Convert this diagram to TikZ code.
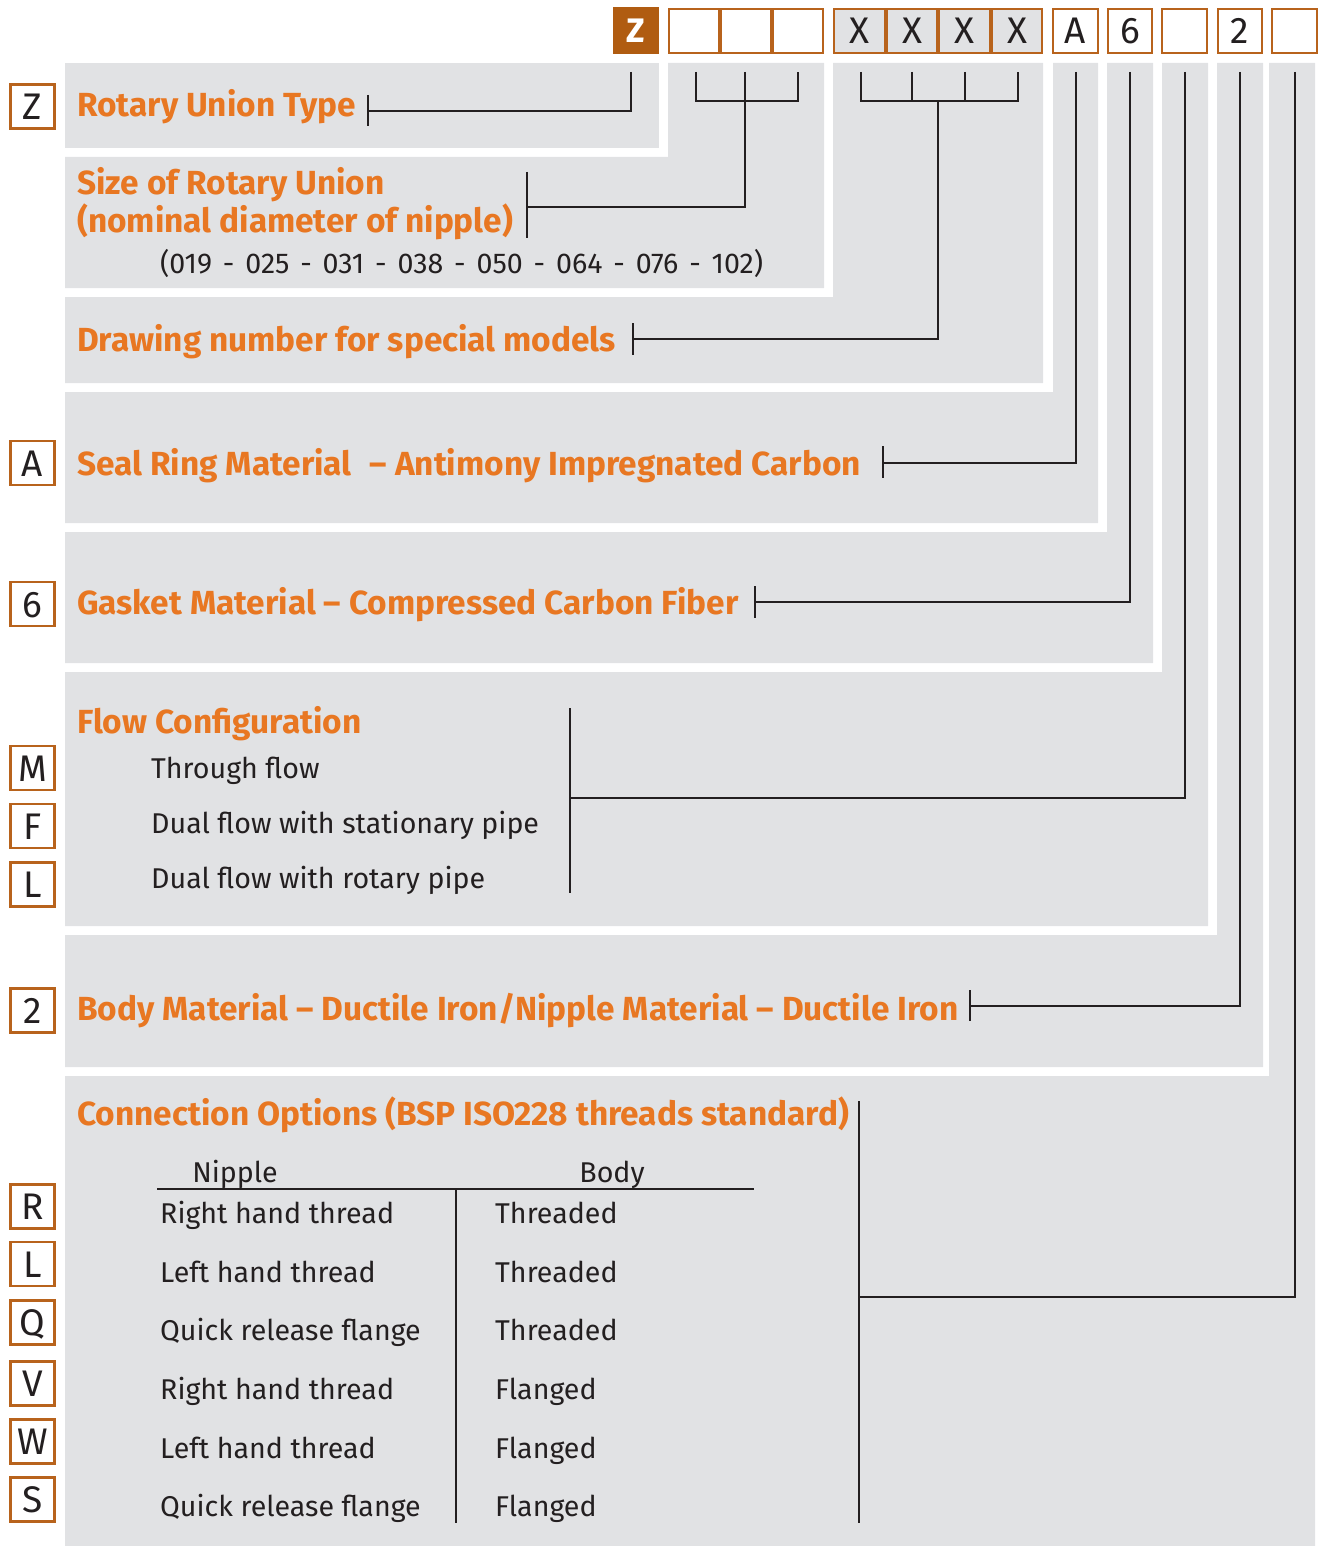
\documentclass[tikz,border=0pt]{standalone}
\usepackage{fontspec}
\setmainfont{Fira Sans}
\usetikzlibrary{calc}
\definecolor{og}{HTML}{E87722}
\definecolor{ob}{HTML}{B8631C}
\definecolor{zf}{HTML}{B05C11}
\definecolor{pg}{HTML}{E1E2E4}
\definecolor{ink}{HTML}{231F20}
\newcommand{\tickmark}[3]{\draw[conn] ($(#1)+(0,-#2)$) -- ($(#1)+(0,#3)$);}
\newcommand{\ws}{\hspace{0.38em}}
\begin{document}
\begin{tikzpicture}[x=1pt,y=-1pt,
  conn/.style={draw=ink, line width=2.7pt},
  head/.style={text=og, font=\fontsize{33.4}{38}\selectfont\bfseries, anchor=base west, inner sep=0pt},
  body/.style={text=ink, font=\fontsize{28.6}{34}\selectfont, anchor=base west, inner sep=0pt},
  colhead/.style={text=ink, font=\fontsize{28.6}{34}\selectfont, anchor=base, inner sep=0pt},
  lbox/.style={draw=ob, line width=2.4pt, fill=white, minimum width=44pt, minimum height=44pt,
     inner sep=0pt, text=ink, text height=26pt, text depth=0pt, font=\fontsize{37}{40}\selectfont},
  cbox/.style={draw=ob, line width=2.4pt, fill=white, minimum width=44.5pt, minimum height=44.5pt,
     inner sep=0pt, text=ink, text height=26pt, text depth=0pt, font=\fontsize{37}{40}\selectfont},
  gbox/.style={cbox, minimum width=50pt},
  zbox/.style={fill=zf, minimum width=46pt, minimum height=47pt, inner sep=0pt, text=white,
     text height=24pt, text depth=0pt, font=\fontsize{34}{40}\selectfont\bfseries},
  panel/.style={fill=pg, draw=none}]
\useasboundingbox (0,0) rectangle (1324,1546);
% ---------- grey panels ----------
\fill[panel] (65,63) rectangle (659,148);
\fill[panel] (65,157) -- (668,157) -- (668,63) -- (824,63) -- (824,288) -- (65,288) -- cycle;
\fill[panel] (65,297) -- (833,297) -- (833,63) -- (1043,63) -- (1043,383) -- (65,383) -- cycle;
\fill[panel] (65,392) -- (1053,392) -- (1053,63) -- (1098,63) -- (1098,523) -- (65,523) -- cycle;
\fill[panel] (65,532) -- (1107,532) -- (1107,63) -- (1153,63) -- (1153,663) -- (65,663) -- cycle;
\fill[panel] (65,672) -- (1162,672) -- (1162,63) -- (1208,63) -- (1208,926) -- (65,926) -- cycle;
\fill[panel] (65,935) -- (1217,935) -- (1217,63) -- (1263,63) -- (1263,1067) -- (65,1067) -- cycle;
\fill[panel] (65,1076) -- (1269,1076) -- (1269,63) -- (1315,63) -- (1315,1546) -- (65,1546) -- cycle;
% ---------- code boxes at top ----------
\node[zbox] (cZ) at (636,30.5) {Z};
\node[gbox] (c1) at (694,31) {};
\node[gbox] (c2) at (746,31) {};
\node[gbox] (c3) at (798,31) {};
\node[gbox,fill=pg,minimum width=50.5pt] (c4) at (859.5,31) {X};
\node[gbox,fill=pg,minimum width=50.5pt] (c5) at (912,31) {X};
\node[gbox,fill=pg,minimum width=50.5pt] (c6) at (964.5,31) {X};
\node[gbox,fill=pg,minimum width=50.5pt] (c7) at (1017,31) {X};
\node[cbox] (c8) at (1075.5,31) {A};
\node[cbox] (c9) at (1130,31) {6};
\node[cbox] (c10) at (1184.5,31) {};
\node[cbox] (c11) at (1240,31) {2};
\node[cbox] (c12) at (1294.5,31) {};
% ---------- left letter boxes ----------
\node[lbox] (kZ) at (32.5,106.5) {Z};
\node[lbox] (kA) at (32.5,463) {A};
\node[lbox] (k6) at (32.5,604) {6};
\node[lbox] (kM) at (32.5,768) {M};
\node[lbox] (kF) at (32.5,826) {F};
\node[lbox] (kL) at (32.5,884.5) {L};
\node[lbox] (k2) at (32.5,1010.5) {2};
\node[lbox] (kR) at (32.5,1206.5) {R};
\node[lbox] (kL2) at (32.5,1264) {L};
\node[lbox] (kQ) at (32.5,1322.5) {Q};
\node[lbox] (kV) at (32.5,1383.5) {V};
\node[lbox] (kW) at (32.5,1441.5) {W};
\node[lbox] (kS) at (32.5,1499.5) {S};
% ---------- texts ----------
\node[head] (t1) at (77,117) {Rotary Union Type};
\node[head] (t2a) at (77,195) {Size of Rotary Union};
\node[head] (t2b) at (77,233) {(nominal diameter of nipple)};
\node[body] (t2c) at (160,273) {(019\ws-\ws025\ws-\ws031\ws-\ws038\ws-\ws050\ws-\ws064\ws-\ws076\ws-\ws102)};
\node[head] (t3) at (77,351) {Drawing number for special models};
\node[head] (t4) at (77,475) {Seal Ring Material\hspace{0.3em} – Antimony Impregnated Carbon};
\node[head] (t5) at (77,614) {Gasket Material – Compressed Carbon Fiber};
\node[head] (t6) at (77,733) {Flow Configuration};
\node[body] (t6a) at (151,778) {Through flow};
\node[body] (t6b) at (151,833) {Dual flow with stationary pipe};
\node[body] (t6c) at (151,888) {Dual flow with rotary pipe};
\node[head] (t7) at (77,1020) {Body Material – Ductile Iron/Nipple Material – Ductile Iron};
\node[head] (t8) at (77,1125) {Connection Options (BSP ISO228 threads standard)};
\node[colhead] (hN) at (235,1182) {Nipple};
\node[colhead] (hB) at (612,1182) {Body};
\node[body] (r1a) at (160,1223) {Right hand thread};
\node[body] (r1b) at (495,1223) {Threaded};
\node[body] (r2a) at (160,1282) {Left hand thread};
\node[body] (r2b) at (495,1282) {Threaded};
\node[body] (r3a) at (160,1340) {Quick release flange};
\node[body] (r3b) at (495,1340) {Threaded};
\node[body] (r4a) at (160,1399) {Right hand thread};
\node[body] (r4b) at (495,1399) {Flanged};
\node[body] (r5a) at (160,1458) {Left hand thread};
\node[body] (r5b) at (495,1458) {Flanged};
\node[body] (r6a) at (160,1516) {Quick release flange};
\node[body] (r6b) at (495,1516) {Flanged};
% table rules
\coordinate (tl) at (157,1189); \coordinate (tr) at (754,1189);
\coordinate (tv1) at (456,1189); \coordinate (tv2) at (456,1523);
\draw[draw=ink, line width=1.8pt] (tl) -- (tr);
\draw[draw=ink, line width=1.8pt] (tv1) -- (tv2);
% ---------- connectors ----------
\coordinate (e1) at (368,111);
\coordinate (e2) at (527,207);
\coordinate (e3) at (633,339);
\coordinate (e4) at (883,463);
\coordinate (e5) at (755,602);
\coordinate (e6) at (570,798);
\coordinate (e7) at (970,1006);
\coordinate (e8) at (859,1297);
% Z
\draw[conn] (631,72) |- (e1);
\tickmark{e1}{16}{15}
% size bracket
\draw[conn] (696,72) |- (798,101) -- (798,72);
\draw[conn] (745,72) |- (e2);
\tickmark{e2}{35}{31}
% drawing number bracket
\draw[conn] (861,72) |- (1018,101) -- (1018,72);
\draw[conn] (912,72) -- (912,101);
\draw[conn] (965,72) -- (965,101);
\draw[conn] (938,101) |- (e3);
\tickmark{e3}{16}{16}
% seal ring
\draw[conn] (1076,72) |- (e4);
\tickmark{e4}{17}{15}
% gasket
\draw[conn] (1130,72) |- (e5);
\tickmark{e5}{16}{16}
% flow
\draw[conn] (1185,72) |- (e6);
\draw[conn] (570,708) -- (570,893);
% body material
\draw[conn] (1240,72) |- (e7);
\tickmark{e7}{16}{15}
% connection options
\draw[conn] (1295,72) |- (e8);
\draw[conn] (859,1101) -- (859,1523);
\end{tikzpicture}
\end{document}
